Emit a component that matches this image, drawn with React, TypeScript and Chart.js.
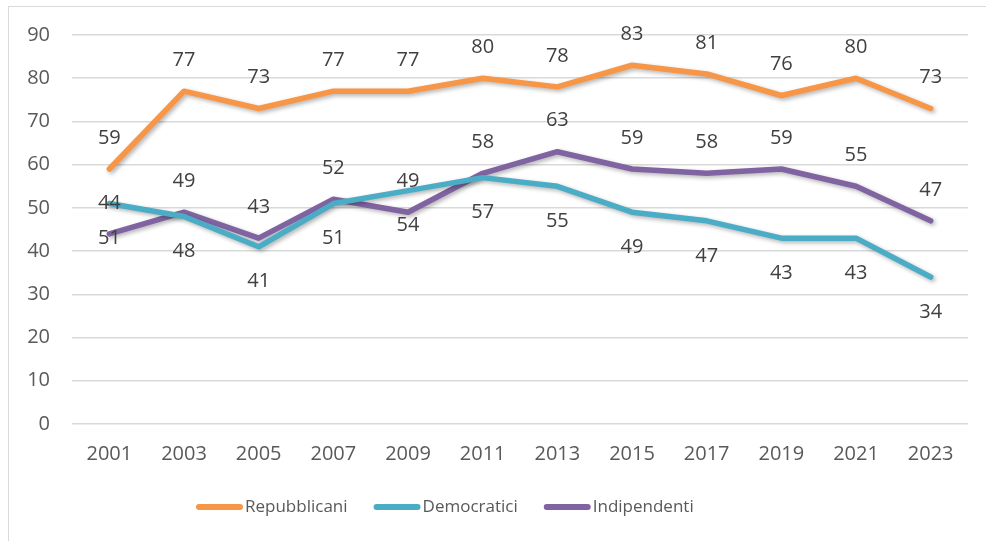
import React, { useEffect, useRef } from "react";
import { Chart, registerables } from "chart.js";

Chart.register(...registerables);

const years = ["2001", "2003", "2005", "2007", "2009", "2011", "2013", "2015", "2017", "2019", "2021", "2023"];
const repubblicani = [59, 77, 73, 77, 77, 80, 78, 83, 81, 76, 80, 73];
const democratici = [51, 48, 41, 51, 54, 57, 55, 49, 47, 43, 43, 34];
const indipendenti = [44, 49, 43, 52, 49, 58, 63, 59, 58, 59, 55, 47];
const seriesNames = ["Repubblicani", "Democratici", "Indipendenti"];
const seriesColors = ["#F79646", "#4BACC6", "#8064A2"];
const labelPlacement = ["above", "below", "above"];

const FONT = "'Open Sans', 'Noto Sans', sans-serif";

const shadowPlugin = {
  id: "lineShadow",
  beforeDatasetDraw(chart: any) {
    const ctx = chart.ctx;
    ctx.save();
    ctx.shadowColor = "rgba(0,0,0,0.3)";
    ctx.shadowBlur = 4;
    ctx.shadowOffsetX = 2;
    ctx.shadowOffsetY = 2;
  },
  afterDatasetDraw(chart: any) {
    chart.ctx.restore();
  },
};

const dataLabelPlugin = {
  id: "dataLabels",
  afterDatasetsDraw(chart: any) {
    const ctx = chart.ctx;
    ctx.save();
    ctx.font = `20px ${FONT}`;
    ctx.fillStyle = "#404040";
    ctx.textAlign = "center";
    ctx.textBaseline = "middle";
    chart.data.datasets.forEach((ds: any, i: number) => {
      const meta = chart.getDatasetMeta(i);
      const pos = labelPlacement[i];
      meta.data.forEach((pt: any, j: number) => {
        const dy = pos === "above" ? -31 : 35;
        ctx.fillText(String(ds.data[j]), pt.x, pt.y + dy);
      });
    });
    ctx.restore();
  },
};

const legendPlugin = {
  id: "customLegend",
  afterDraw(chart: any) {
    const ctx = chart.ctx;
    ctx.save();
    ctx.font = `17px ${FONT}`;
    ctx.textBaseline = "middle";
    ctx.textAlign = "left";
    let x = 196;
    const y = 507;
    seriesNames.forEach((name, i) => {
      ctx.strokeStyle = seriesColors[i];
      ctx.lineWidth = 6;
      ctx.lineCap = "round";
      ctx.beginPath();
      ctx.moveTo(x + 3, y);
      ctx.lineTo(x + 44, y);
      ctx.stroke();
      ctx.fillStyle = "#595959";
      ctx.fillText(name, x + 49, y);
      x += 49 + ctx.measureText(name).width + 26;
    });
    ctx.restore();
  },
};

export default function App() {
  const ref = useRef<HTMLCanvasElement>(null);
  useEffect(() => {
    if (!ref.current) return;
    const data = [repubblicani, democratici, indipendenti];
    const chart = new Chart(ref.current, {
      type: "line",
      data: {
        labels: years,
        datasets: seriesNames.map((name, i) => ({
          label: name,
          data: data[i],
          borderColor: seriesColors[i],
          backgroundColor: seriesColors[i],
          borderWidth: 5.5,
          pointRadius: 0,
          pointHoverRadius: 0,
          tension: 0,
          borderCapStyle: "round",
          borderJoinStyle: "round",
          fill: false,
        })),
      },
      options: {
        animation: false,
        responsive: false,
        maintainAspectRatio: false,
        layout: { padding: { top: 35, right: 18, left: 0, bottom: 0 } },
        plugins: {
          legend: { display: false },
          tooltip: { enabled: false },
        },
        scales: {
          x: {
            offset: true,
            grid: { display: false, drawTicks: false },
            border: { display: false },
            ticks: {
              padding: 18,
              color: "#595959",
              font: { family: FONT, size: 20 },
              maxRotation: 0,
            },
            afterFit(scale: any) {
              scale.height = 117;
            },
          },
          y: {
            min: 0,
            max: 90,
            grid: { color: "#D9D9D9", lineWidth: 1.5, drawTicks: false },
            border: { display: false },
            ticks: {
              stepSize: 10,
              padding: 22,
              color: "#595959",
              font: { family: FONT, size: 20 },
            },
            afterFit(scale: any) {
              scale.width = 72;
            },
          },
        },
      } as any,
      plugins: [shadowPlugin, dataLabelPlugin, legendPlugin],
    });
    return () => chart.destroy();
  }, []);

  return (
    <div style={{ position: "absolute", left: 0, top: 0, width: 986, height: 541, overflow: "hidden", background: "#fff" }}>
      <div
        style={{
          position: "absolute",
          left: 8,
          top: 6,
          width: 1100,
          height: 700,
          border: "1.5px solid #D9D9D9",
          boxSizing: "border-box",
        }}
      />
      <canvas ref={ref} width={986} height={541} style={{ position: "absolute", left: 0, top: 0 }} />
    </div>
  );
}
